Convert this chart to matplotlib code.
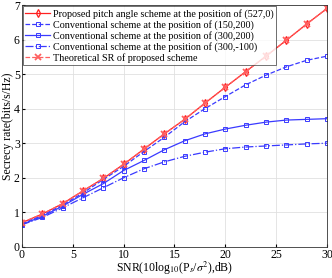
import numpy as np
import matplotlib.pyplot as plt

plt.rcParams['font.family'] = ['Liberation Serif', 'DejaVu Serif']
plt.rcParams['mathtext.fontset'] = 'stix'

snr = [0, 2, 4, 6, 8, 10, 12, 14, 16, 18, 20, 22, 24, 26, 28, 30]
proposed = [0.70, 0.95, 1.25, 1.62, 1.98, 2.39, 2.83, 3.27, 3.69, 4.16, 4.62, 5.07, 5.52, 5.98, 6.45, 6.90]
conv_150_200 = [0.67, 0.91, 1.21, 1.56, 1.95, 2.33, 2.76, 3.17, 3.62, 4.00, 4.35, 4.69, 4.97, 5.21, 5.40, 5.52]
conv_300_200 = [0.65, 0.88, 1.18, 1.52, 1.83, 2.21, 2.50, 2.81, 3.07, 3.27, 3.41, 3.52, 3.61, 3.67, 3.69, 3.71]
conv_300_m100 = [0.64, 0.85, 1.13, 1.42, 1.71, 2.00, 2.26, 2.46, 2.62, 2.74, 2.84, 2.89, 2.92, 2.95, 2.98, 3.00]
theory = [0.70, 0.95, 1.25, 1.62, 1.98, 2.39, 2.83, 3.27, 3.69, 4.16, 4.62, 5.07, 5.52, 5.98, 6.45, 6.90]

labels = ['Proposed pitch angle scheme at the position of (527,0)',
          'Conventional scheme at the position of (150,200)',
          'Conventional scheme at the position of (300,200)',
          'Conventional scheme at the position of (300,-100)',
          'Theoretical SR of proposed scheme']

red = '#ff2020'
blue = '#3a3aff'

fig = plt.figure(figsize=(3.32, 2.78), dpi=100)
ax = fig.add_axes([0.066, 0.112, 0.919, 0.870])

ax.plot(snr, proposed, color=red, lw=0.9, marker='d', ms=4, mfc='none', mew=0.9, label=labels[0])
ax.plot(snr, conv_150_200, color=blue, ls='--', lw=0.9, marker='s', ms=3, mfc='none', mew=0.7, label=labels[1])
ax.plot(snr, conv_300_200, color=blue, ls='-', lw=0.9, marker='s', ms=3, mfc='none', mew=0.7, label=labels[2])
ax.plot(snr, conv_300_m100, color=blue, ls='-.', lw=0.9, marker='s', ms=3, mfc='none', mew=0.7, label=labels[3])
ax.plot(snr, theory, color='#ff6060', ls='--', lw=0.9, marker='x', ms=4, mew=1.3, label=labels[4])

ax.set_xlim(0, 30)
ax.set_ylim(0, 7)
ax.set_xticks([0, 5, 10, 15, 20, 25, 30])
ax.set_yticks(range(8))
ax.grid(True, color='#e0e0e0', lw=0.6)
ax.tick_params(direction='in', labelsize=8.5, length=2, pad=1.5)
for s in ax.spines.values():
    s.set_linewidth(0.6)
    s.set_color('#333333')

ax.set_xlabel(r'SNR(10log$_{10}$(P$_s$/$\sigma^2$),dB)', fontsize=8.5, labelpad=-1)
ax.set_ylabel('Secrecy rate(bits/s/Hz)', fontsize=8.5, labelpad=0)

leg = ax.legend(loc='upper left', fontsize=7.3, frameon=True, fancybox=False,
                borderaxespad=0.1, handlelength=2.4, handletextpad=0.3,
                labelspacing=0.12, borderpad=0.25)
leg.get_frame().set_edgecolor('#333333')
leg.get_frame().set_linewidth(0.6)

fig.savefig('out.png', dpi=100)
